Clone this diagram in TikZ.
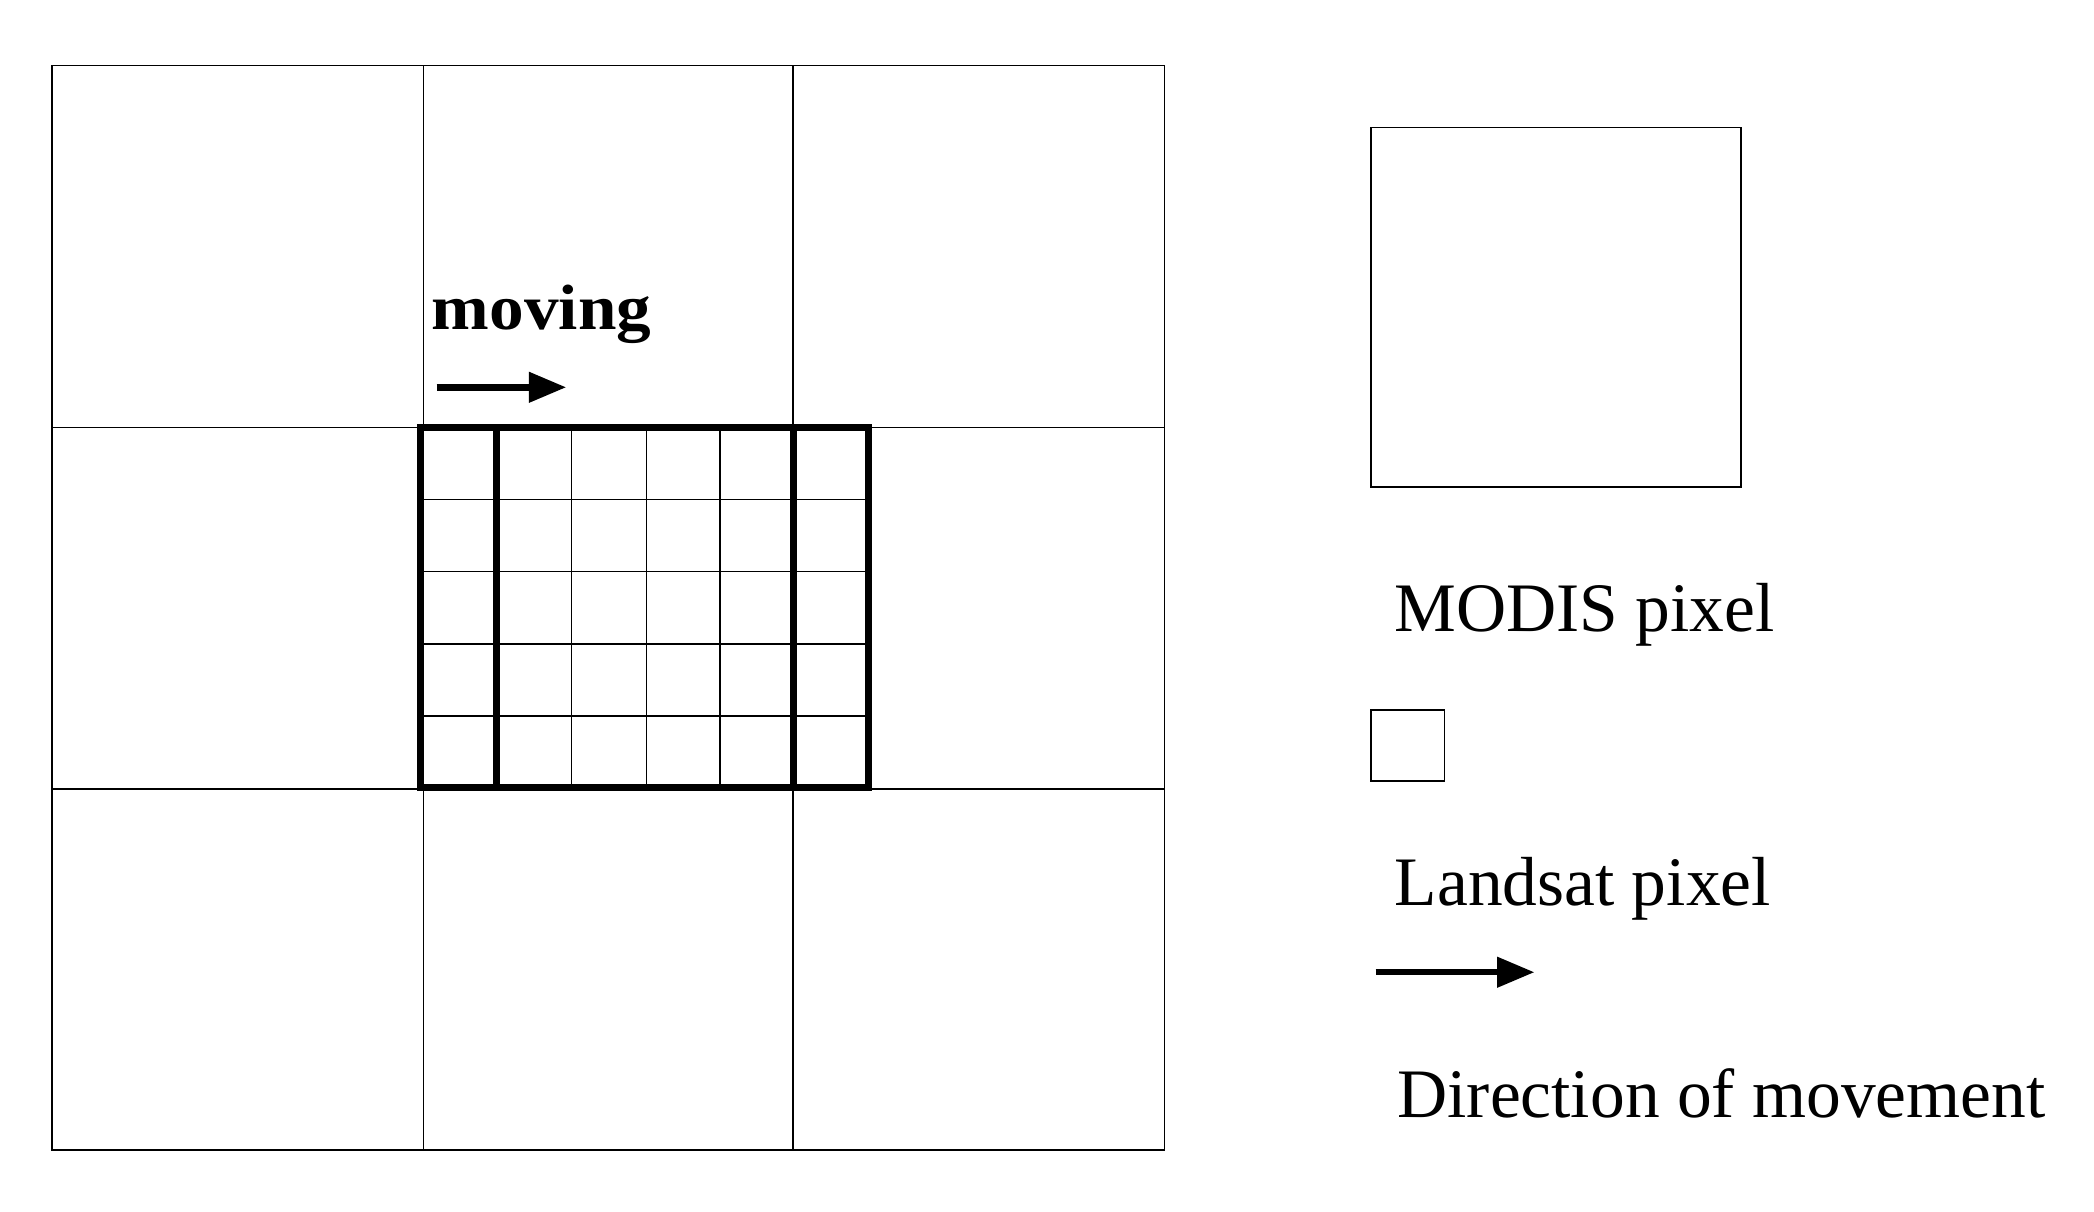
\documentclass[tikz,border=0pt]{standalone}
\usepackage{fontspec}
\setmainfont{Liberation Serif}
\usetikzlibrary{arrows.meta}
\begin{document}
\begin{tikzpicture}[x=0.5pt,y=-0.5pt,
  thin line/.style={line width=0.6pt},
  thick line/.style={line width=2.6pt},
  mvarrow/.style={line width=2.4pt,-{Triangle[length=14pt,width=11pt]}},
  lbl/.style={anchor=base west,inner sep=0pt,font=\fontsize{26}{30}\selectfont}]
\useasboundingbox (0,0) rectangle (1568,907);
% big MODIS grid
\draw[thin line] (39,49) rectangle (872,861);
\foreach \x in {317,594} \draw[thin line] (\x,49) -- (\x,861);
\foreach \y in {320,591} \draw[thin line] (39,\y) -- (872,\y);
% Landsat grid
\foreach \x in {428,484,539} \draw[thin line] (\x,320) -- (\x,590);
\foreach \y in {374,428,482,536} \draw[thin line] (315,\y) -- (650,\y);
\draw[thick line] (315,320) rectangle (650,590);
\draw[thick line] (372,320) -- (372,590);
\draw[thick line] (594,320) -- (594,590);
% moving
\node[lbl,font=\fontsize{24}{28}\selectfont\bfseries,xscale=1.08,anchor=base west] (mv) at (323,247) {moving};
\coordinate (ma) at (327,290); \coordinate (mb) at (424,290);
\draw[mvarrow] (ma) -- (mb);
% legend
\node[draw,thin line,minimum width=138.5pt,minimum height=134.5pt,inner sep=0pt,anchor=north west] (modis) at (1026,95) {};
\node[lbl] (modist) at (1044,473) {MODIS pixel};
\node[draw,thin line,minimum width=27.5pt,minimum height=26.5pt,inner sep=0pt,anchor=north west] (land) at (1026,531) {};
\node[lbl] (landt) at (1044,678) {Landsat pixel};
\coordinate (la) at (1030,728); \coordinate (lb) at (1149,728);
\draw[mvarrow] (la) -- (lb);
\node[lbl] (dirt) at (1046,837) {Direction of movement};
\end{tikzpicture}
\end{document}
